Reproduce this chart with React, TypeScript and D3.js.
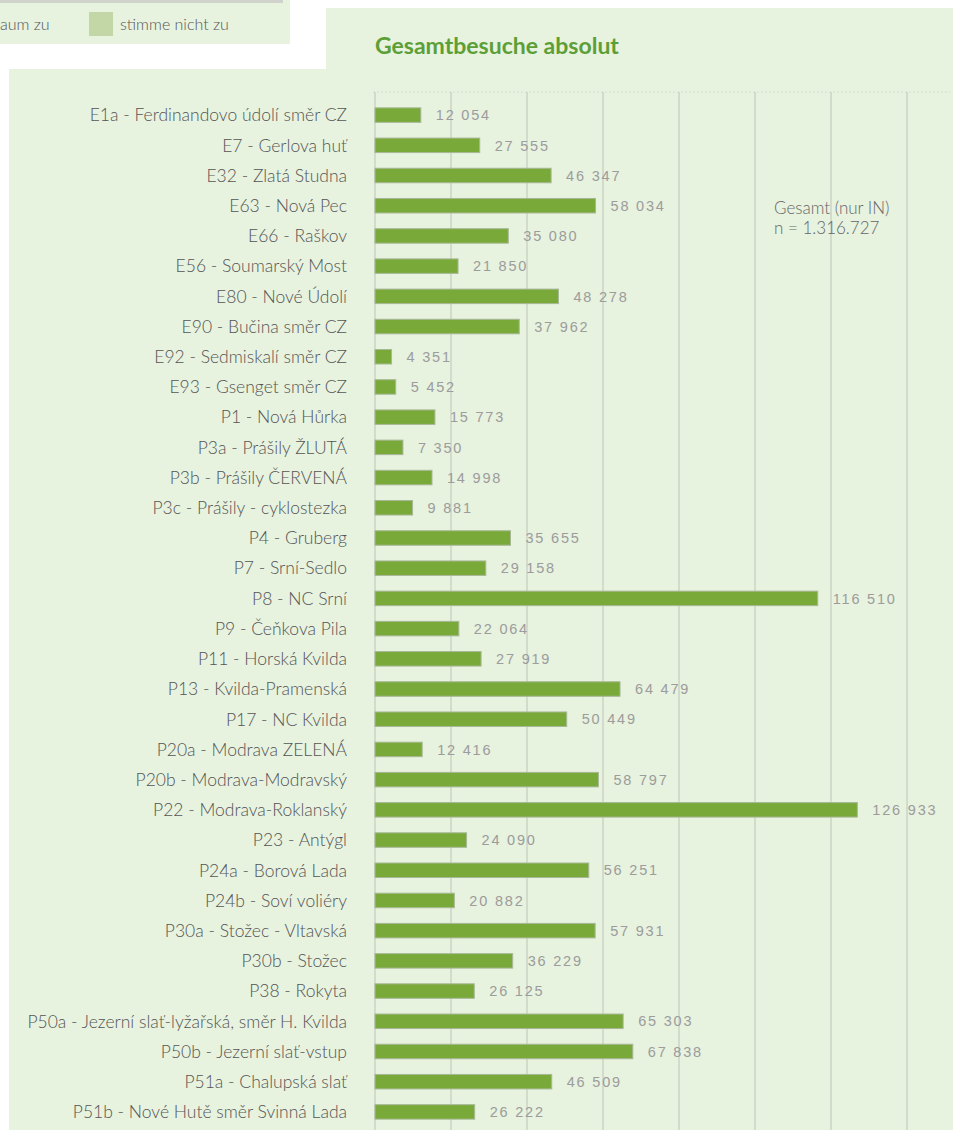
import React, { useEffect, useRef } from 'react';
import * as d3 from 'd3';

const categories = [
  'E1a - Ferdinandovo údolí směr CZ',
  'E7 - Gerlova huť',
  'E32 - Zlatá Studna',
  'E63 - Nová Pec',
  'E66 - Raškov',
  'E56 - Soumarský Most',
  'E80 - Nové Údolí',
  'E90 - Bučina směr CZ',
  'E92 - Sedmiskalí směr CZ',
  'E93 - Gsenget směr CZ',
  'P1 - Nová Hůrka',
  'P3a - Prášily ŽLUTÁ',
  'P3b - Prášily ČERVENÁ',
  'P3c - Prášily - cyklostezka',
  'P4 - Gruberg',
  'P7 - Srní-Sedlo',
  'P8 - NC Srní',
  'P9 - Čeňkova Pila',
  'P11 - Horská Kvilda',
  'P13 - Kvilda-Pramenská',
  'P17 - NC Kvilda',
  'P20a - Modrava ZELENÁ',
  'P20b - Modrava-Modravský',
  'P22 - Modrava-Roklanský',
  'P23 - Antýgl',
  'P24a - Borová Lada',
  'P24b - Soví voliéry',
  'P30a - Stožec - Vltavská',
  'P30b - Stožec',
  'P38 - Rokyta',
  'P50a - Jezerní slať-lyžařská, směr H. Kvilda',
  'P50b - Jezerní slať-vstup',
  'P51a - Chalupská slať',
  'P51b - Nové Hutě směr Svinná Lada',
];

const visits = [
  12054, 27555, 46347, 58034, 35080, 21850, 48278, 37962, 4351, 5452,
  15773, 7350, 14998, 9881, 35655, 29158, 116510, 22064, 27919, 64479,
  50449, 12416, 58797, 126933, 24090, 56251, 20882, 57931, 36229, 26125,
  65303, 67838, 46509, 26222,
];

const gridTicks = [0, 20000, 40000, 60000, 80000, 100000, 120000, 140000];

const title = 'Gesamtbesuche absolut';
const noteLines = ['Gesamt (nur IN)', 'n = 1.316.727'];
const legendItems = ['aum zu', 'stimme nicht zu'];

const W = 962;
const H = 1131;

const App = () => {
  const ref = useRef<SVGSVGElement>(null);

  useEffect(() => {
    if (!ref.current) return;
    const svg = d3.select(ref.current);
    svg.selectAll('*').remove();

    const bg = '#e7f2df';

    // panels (L-shaped area + legend box)
    svg.append('rect').attr('x', 0).attr('y', 0).attr('width', 290).attr('height', 44).attr('fill', bg);
    svg.append('rect').attr('x', 0).attr('y', 0).attr('width', 283).attr('height', 3).attr('fill', '#cfd3cb');
    svg.append('rect').attr('x', 326).attr('y', 8).attr('width', 627).attr('height', 70).attr('fill', bg);
    svg.append('rect').attr('x', 9).attr('y', 69).attr('width', 944).attr('height', 1061).attr('fill', bg);

    // legend fragment
    svg.append('text').attr('x', 0).attr('y', 30).attr('font-family', 'Lato').attr('font-weight', 300)
      .attr('font-size', 16).attr('fill', '#555').text(legendItems[0]);
    svg.append('rect').attr('x', 89).attr('y', 12).attr('width', 24).attr('height', 24).attr('fill', '#c2d6a6');
    svg.append('text').attr('x', 120).attr('y', 30).attr('font-family', 'Lato').attr('font-weight', 300)
      .attr('font-size', 16).attr('fill', '#555').text(legendItems[1]);

    // title
    svg.append('text').attr('x', 375).attr('y', 54).attr('font-family', 'Lato').attr('font-weight', 700)
      .attr('font-size', 23).attr('fill', '#5d9f37').text(title);

    const x = d3.scaleLinear().domain([0, 140000]).range([375, 907]);
    const y = d3.scaleBand<string>().domain(categories).range([100, 1127]).padding(0);
    const barH = 14.5;

    // top dotted border
    svg.append('line').attr('x1', 373).attr('x2', 950).attr('y1', 92).attr('y2', 92)
      .attr('stroke', '#d6dccf').attr('stroke-dasharray', '2,2');

    // gridlines
    svg.selectAll('.grid').data(gridTicks).enter().append('line')
      .attr('class', 'grid')
      .attr('x1', d => x(d)).attr('x2', d => x(d))
      .attr('y1', 92).attr('y2', 1130)
      .attr('stroke', '#cdd3c6').attr('stroke-width', 1.5);

    // bars
    svg.selectAll('.bar').data(visits).enter().append('rect')
      .attr('class', 'bar')
      .attr('x', x(0))
      .attr('y', (d, i) => (y(categories[i]) as number) + (y.bandwidth() - barH) / 2)
      .attr('width', d => x(d) - x(0))
      .attr('height', barH)
      .attr('fill', '#79aa39')
      .attr('stroke', '#a8b898')
      .attr('stroke-width', 1);

    const fmt = (v: number) => d3.format(',')(v).replace(/,/g, ' ');

    // value labels
    svg.selectAll('.val').data(visits).enter().append('text')
      .attr('class', 'val')
      .attr('x', d => x(d) + 15)
      .attr('y', (d, i) => (y(categories[i]) as number) + y.bandwidth() / 2)
      .attr('dy', '0.36em')
      .attr('font-family', 'Liberation Sans')
      .attr('font-size', 14.5)
      .attr('letter-spacing', 1.8)
      .attr('fill', '#9c9c9c')
      .text(d => fmt(d));

    // category labels
    svg.selectAll('.cat').data(categories).enter().append('text')
      .attr('class', 'cat')
      .attr('x', 347)
      .attr('y', d => (y(d) as number) + y.bandwidth() / 2)
      .attr('dy', '0.36em')
      .attr('text-anchor', 'end')
      .attr('font-family', 'Lato')
      .attr('font-weight', 300)
      .attr('font-size', 17.5)
      .attr('fill', '#555')
      .text(d => d);

    // total note
    svg.selectAll('.note').data(noteLines).enter().append('text')
      .attr('class', 'note')
      .attr('x', 774)
      .attr('y', (d, i) => 214 + i * 20)
      .attr('font-family', 'Lato')
      .attr('font-weight', 300)
      .attr('font-size', 17)
      .attr('fill', '#666')
      .text(d => d);
  }, []);

  return (
    <svg ref={ref} width={W} height={H}
      style={{ position: 'absolute', left: 0, top: 0, background: '#fff' }} />
  );
};

export default App;
